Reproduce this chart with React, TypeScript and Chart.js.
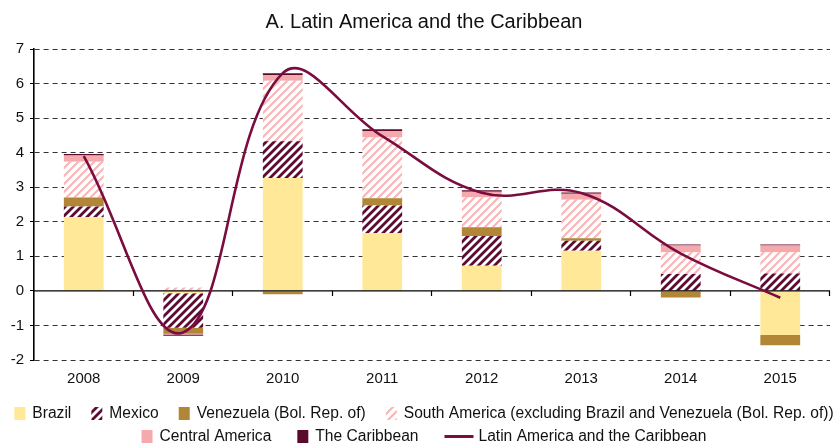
import React, { useEffect, useRef } from 'react';
import { Chart, registerables } from 'chart.js';

Chart.register(...registerables);

const FONT = '"Liberation Sans", Arial, sans-serif';

const years = ['2008', '2009', '2010', '2011', '2012', '2013', '2014', '2015'];
const brazil = [2.13, -0.07, 3.27, 1.67, 0.73, 1.16, 0.0, -1.28];
const mexico = [0.31, -1.0, 1.06, 0.8, 0.86, 0.29, 0.49, 0.5];
const venezuela = [0.26, -0.17, -0.1, 0.21, 0.25, 0.07, -0.19, -0.29];
const southAmerica = [1.04, 0.1, 1.75, 1.76, 0.86, 1.12, 0.63, 0.62];
const centralAmerica = [0.18, -0.02, 0.17, 0.19, 0.17, 0.17, 0.19, 0.19];
const caribbean = [0.04, -0.04, 0.05, 0.05, 0.04, 0.04, 0.03, 0.03];
const latinAmerica = [3.9, -1.2, 6.3, 4.48, 2.84, 2.83, 1.08, -0.2];

const TITLE = 'A. Latin America and the Caribbean';

const C_BRAZIL = '#FFE898';
const C_MEXICO = '#5E0B33';
const C_VEN = '#B28637';
const C_SA = '#F8B4B7';
const C_CA = '#F5A9AC';
const C_CAR = '#5A0A2D';
const C_LINE = '#7A0C3F';

function makeHatch(color: string, lw: number): CanvasPattern | string {
  const s = 8;
  const c = document.createElement('canvas');
  c.width = s;
  c.height = s;
  const x = c.getContext('2d');
  if (!x) return color;
  x.fillStyle = '#ffffff';
  x.fillRect(0, 0, s, s);
  x.strokeStyle = color;
  x.lineWidth = lw;
  x.beginPath();
  for (let k = -1; k <= 1; k++) {
    x.moveTo(k * s - 2, s + 2);
    x.lineTo(k * s + s + 2, -2);
  }
  x.stroke();
  const p = x.createPattern(c, 'repeat');
  return p || color;
}

export default function App() {
  const ref = useRef<HTMLCanvasElement | null>(null);

  useEffect(() => {
    const canvas = ref.current;
    if (!canvas) return;
    const mexHatch = makeHatch(C_MEXICO, 2.8);
    const saHatch = makeHatch(C_SA, 2.1);

    const legendRows: any[][] = [
      [
        { kind: 'box', fill: C_BRAZIL, text: 'Brazil' },
        { kind: 'box', fill: mexHatch, text: 'Mexico' },
        { kind: 'box', fill: C_VEN, text: 'Venezuela (Bol. Rep. of)' },
        { kind: 'box', fill: saHatch, text: 'South America (excluding Brazil and Venezuela (Bol. Rep. of))' },
      ],
      [
        { kind: 'box', fill: C_CA, text: 'Central America' },
        { kind: 'box', fill: C_CAR, text: 'The Caribbean' },
        { kind: 'line', fill: C_LINE, text: 'Latin America and the Caribbean' },
      ],
    ];
    const rowGaps = [20, 26];

    const decorPlugin = {
      id: 'decor',
      afterDatasetDraw(chart: any, args: any) {
        if (args.index !== 0) return;
        const ctx = chart.ctx;
        const ys = chart.scales.y;
        const y0 = ys.getPixelForValue(0);
        const left = chart.chartArea.left;
        const right = chart.chartArea.right;
        ctx.save();
        ctx.strokeStyle = '#000';
        ctx.lineWidth = 1.2;
        ctx.beginPath();
        ctx.moveTo(left, y0);
        ctx.lineTo(right, y0);
        const n = years.length;
        const w = (right - left) / n;
        for (let i = 1; i <= n; i++) {
          const xx = Math.round(left + i * w) - 0.5;
          ctx.moveTo(xx, y0);
          ctx.lineTo(xx, y0 + 5);
        }
        ctx.stroke();
        ctx.restore();
      },
      afterDraw(chart: any) {
        const ctx = chart.ctx;
        ctx.save();
        // title
        ctx.fillStyle = '#111';
        ctx.font = `20px ${FONT}`;
        ctx.textAlign = 'center';
        ctx.textBaseline = 'alphabetic';
        ctx.fillText(TITLE, 424, 28);
        // legend
        ctx.font = `15.6px ${FONT}`;
        ctx.textAlign = 'left';
        ctx.textBaseline = 'middle';
        const rowY = [413.5, 436.5];
        const boxW = 11;
        const boxH = 13;
        const lineLen = 29;
        const gapText = 7;
        legendRows.forEach((row, r) => {
          const gapItem = rowGaps[r];
          const widths = row.map((it: any) => {
            const tw = ctx.measureText(it.text).width;
            return (it.kind === 'line' ? lineLen + 5 : boxW + gapText) + tw;
          });
          const total = widths.reduce((a: number, b: number) => a + b, 0) + gapItem * (row.length - 1);
          let x = 424 - total / 2;
          const cy = rowY[r];
          row.forEach((it: any, i: number) => {
            if (it.kind === 'line') {
              ctx.strokeStyle = it.fill;
              ctx.lineWidth = 3;
              ctx.beginPath();
              ctx.moveTo(x, cy);
              ctx.lineTo(x + lineLen, cy);
              ctx.stroke();
              ctx.fillStyle = '#111';
              ctx.fillText(it.text, x + lineLen + 5, cy);
            } else {
              ctx.fillStyle = it.fill;
              ctx.fillRect(x, cy - boxH / 2, boxW, boxH);
              ctx.fillStyle = '#111';
              ctx.fillText(it.text, x + boxW + gapText, cy);
            }
            x += widths[i] + gapItem;
          });
        });
        ctx.restore();
      },
    };

    const barCommon = { stack: 'bars', order: 1, borderWidth: 0, barPercentage: 0.4, categoryPercentage: 1.0 };

    const chart = new Chart(canvas, {
      type: 'bar',
      data: {
        labels: years,
        datasets: [
          { ...barCommon, label: 'Brazil', data: brazil, backgroundColor: C_BRAZIL },
          { ...barCommon, label: 'Mexico', data: mexico, backgroundColor: mexHatch },
          { ...barCommon, label: 'Venezuela (Bol. Rep. of)', data: venezuela, backgroundColor: C_VEN },
          { ...barCommon, label: 'South America (excluding Brazil and Venezuela (Bol. Rep. of))', data: southAmerica, backgroundColor: saHatch },
          { ...barCommon, label: 'Central America', data: centralAmerica, backgroundColor: C_CA },
          { ...barCommon, label: 'The Caribbean', data: caribbean, backgroundColor: C_CAR },
          {
            type: 'line',
            label: 'Latin America and the Caribbean',
            data: latinAmerica,
            stack: 'line',
            order: 0,
            borderColor: C_LINE,
            borderWidth: 2.6,
            tension: 0.4,
            pointRadius: 0,
            fill: false,
          } as any,
        ] as any,
      },
      options: {
        responsive: false,
        animation: false,
        devicePixelRatio: 1,
        layout: { padding: { top: 49, right: 7, bottom: 0, left: 0 } },
        plugins: {
          legend: { display: false },
          title: { display: false },
          tooltip: { enabled: false },
        },
        scales: {
          x: {
            stacked: true,
            grid: { display: false },
            border: { display: false },
            ticks: { color: '#111', font: { family: FONT, size: 15 }, padding: 2 },
            afterFit: (s: any) => { s.height = 84; },
          },
          y: {
            stacked: true,
            min: -2,
            max: 7,
            ticks: { stepSize: 1, color: '#111', font: { family: FONT, size: 15 }, padding: 6 },
            grid: {
              color: (c: any) => (c.tick && c.tick.value === 0 ? 'rgba(0,0,0,0)' : '#333'),
              tickColor: '#000',
              tickLength: 4,
              lineWidth: 1,
            },
            border: { display: true, color: '#000', width: 1.6, dash: [5, 4] },
            afterFit: (s: any) => { s.width = 34; },
          },
        },
      } as any,
      plugins: [decorPlugin],
    });

    return () => chart.destroy();
  }, []);

  return (
    <div style={{ position: 'fixed', left: 0, top: 0, width: 837, height: 444, background: '#fff' }}>
      <canvas ref={ref} width={837} height={444} />
    </div>
  );
}
